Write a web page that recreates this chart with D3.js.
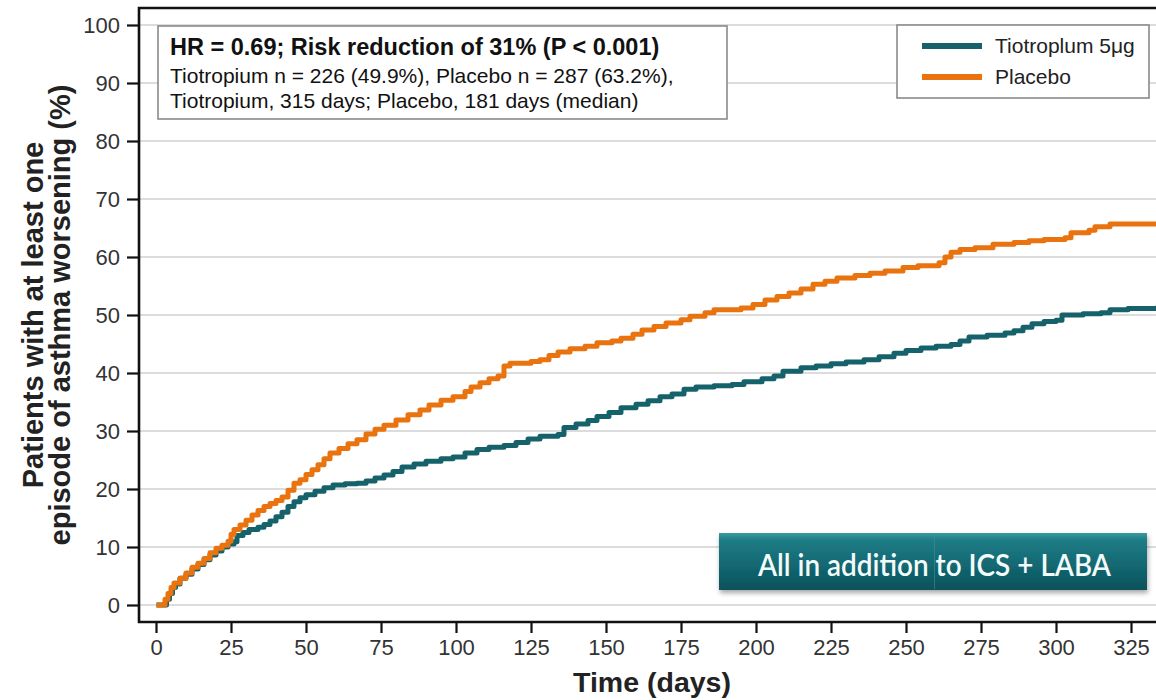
<!DOCTYPE html>
<html><head><meta charset="utf-8">
<script src="https://cdn.jsdelivr.net/npm/d3@7"></script>
<style>
html,body{margin:0;padding:0;background:#fff;}
svg{display:block;font-family:"Liberation Sans",Arial,sans-serif;}
</style></head>
<body><svg id="c" width="1156" height="700"></svg>
<script>
// ---- data ----
const xTicks = [0,25,50,75,100,125,150,175,200,225,250,275,300,325];
const yTicks = [0,10,20,30,40,50,60,70,80,90,100];
const seriesNames = ["Tiotroplum 5μg","Placebo"];
const seriesColors = ["#16626a","#e8730f"];
// Tiotropium: [day, % with ≥1 episode]
const tiotropium = [[1,0],[3.5,1],[4.5,2],[5.5,3],[6.5,3.6],[8,4.6],[10,5.3],[12,6.2],[14,7],[16,7.8],[18,8.6],[20,9.3],[22,10],[24,10.5],[26,10.9],[27,12],[29,12.5],[31,13],[34,13.4],[36,13.9],[38,14.5],[40,15.2],[42,16],[44,17],[46,17.8],[48,18.5],[50,19],[53,19.6],[56,20.2],[59,20.7],[63,20.9],[67,21],[70,21.4],[73,21.9],[76,22.4],[79,23],[82,23.8],[86,24.3],[90,24.8],[95,25.2],[99,25.5],[103,26.2],[107,26.8],[111,27.2],[116,27.5],[120,28],[124,28.6],[128,29.1],[134,29.4],[136,30.6],[140,31.2],[144,31.8],[147,32.5],[151,33.2],[155,34],[160,34.6],[164,35.2],[168,35.9],[172,36.4],[176,37.2],[180,37.6],[186,37.8],[192,38],[196,38.5],[202,39],[206,39.5],[209,40.3],[215,40.9],[220,41.2],[225,41.6],[230,41.9],[236,42.3],[241,42.8],[246,43.4],[250,43.9],[255,44.3],[260,44.6],[265,44.9],[268,45.5],[271,46.2],[277,46.5],[283,46.9],[286,47.3],[289,47.9],[292,48.5],[296,48.9],[300,49.1],[302,50],[309,50.2],[315,50.4],[318,50.9],[324,51.1],[334,51.2]];
// Placebo: [day, % with ≥1 episode]
const placebo = [[1,0],[3,1],[4,2],[5,3],[6,3.8],[8,4.6],[10,5.5],[12,6.5],[14,7.2],[16,8],[18,9],[20,9.8],[22,10.3],[24,11],[25,12.2],[26,13],[28,13.8],[30,14.6],[32,15.5],[34,16.3],[36,17],[38,17.5],[40,18],[42,18.6],[44,19.8],[46,21],[48,21.6],[50,22.5],[52,23.3],[54,24.2],[56,25.2],[58,26.2],[61,27],[64,27.8],[67,28.5],[70,29.5],[73,30.3],[76,31],[80,31.9],[84,32.8],[88,33.6],[91,34.5],[95,35.3],[99,35.9],[103,36.8],[105,37.6],[108,38.3],[111,39],[114,39.5],[116,41.2],[118,41.7],[125,42],[128,42.3],[131,43],[134,43.6],[138,44.2],[143,44.6],[147,45.2],[152,45.5],[155,46],[159,46.7],[162,47.4],[166,48],[170,48.6],[175,49.2],[178,49.8],[183,50.4],[186,50.9],[195,51.2],[199,51.8],[203,52.6],[207,53.2],[211,53.8],[215,54.5],[219,55.3],[223,55.8],[227,56.4],[233,56.8],[238,57.2],[243,57.6],[249,58.2],[254,58.5],[261,59],[263,60],[265,60.8],[268,61.3],[273,61.6],[279,62.2],[286,62.5],[291,62.8],[296,63],[303,63.3],[305,64.2],[311,64.6],[313,65.2],[318,65.7],[334,65.7]];
const annotLines = ["HR = 0.69; Risk reduction of 31% (P < 0.001)","Tiotropium n = 226 (49.9%), Placebo n = 287 (63.2%),","Tiotropium, 315 days; Placebo, 181 days (median)"];
const bannerText = "All in addition to ICS + LABA";
const xTitle = "Time (days)";
const yTitleLines = ["Patients with at least one","episode of asthma worsening (%)"];

// ---- layout ----
const svg = d3.select("#c");
const plotL = 139, plotT = 8, plotB = 622, plotR = 1160;
const x = d3.scaleLinear().domain([0,325]).range([156,1131]);
const y = d3.scaleLinear().domain([0,100]).range([605,25]);

const defs = svg.append("defs");
defs.append("clipPath").attr("id","clip").append("rect")
  .attr("x",plotL).attr("y",plotT).attr("width",plotR-plotL).attr("height",plotB-plotT);
const g1 = defs.append("linearGradient").attr("id","bannerGrad").attr("x1",0).attr("y1",0).attr("x2",0).attr("y2",1);
g1.append("stop").attr("offset","0%").attr("stop-color","#3a9aa1");
g1.append("stop").attr("offset","12%").attr("stop-color","#1f7d86");
g1.append("stop").attr("offset","60%").attr("stop-color","#126670");
g1.append("stop").attr("offset","100%").attr("stop-color","#0b525a");
const f = defs.append("filter").attr("id","shadow").attr("x","-10%").attr("y","-20%").attr("width","120%").attr("height","150%");
f.append("feDropShadow").attr("dx",1).attr("dy",3).attr("stdDeviation",2.5).attr("flood-color","#000").attr("flood-opacity",0.35);

// gridlines
svg.append("g").selectAll("line").data(yTicks).join("line")
  .attr("x1",plotL).attr("x2",plotR).attr("y1",d=>y(d)).attr("y2",d=>y(d))
  .attr("stroke","#dcdcdc").attr("stroke-width",2);

// axes
const yAxis = svg.append("g").attr("transform",`translate(${plotL},0)`)
  .call(d3.axisLeft(y).tickValues(yTicks).tickSize(12).tickPadding(7));
const xAxis = svg.append("g").attr("transform",`translate(0,${plotB})`)
  .call(d3.axisBottom(x).tickValues(xTicks).tickSize(11).tickPadding(6));
[yAxis,xAxis].forEach(a=>{
  a.select(".domain").remove();
  a.selectAll(".tick line").attr("stroke","#111").attr("stroke-width",2.2);
  a.selectAll(".tick text").attr("fill","#333").style("font-size","22px").style("font-family","Liberation Sans, Arial, sans-serif");
});
// spines
svg.append("path").attr("d",`M${plotR},${plotT}H${plotL}V${plotB}H${plotR}`)
  .attr("fill","none").attr("stroke","#111").attr("stroke-width",2.6);

// curves
const line = d3.line().x(d=>x(d[0])).y(d=>y(d[1])).curve(d3.curveStepAfter);
const cg = svg.append("g").attr("clip-path","url(#clip)");
[tiotropium,placebo].forEach((s,i)=>{
  cg.append("path").datum(s).attr("d",line).attr("fill","none")
    .attr("stroke",seriesColors[i]).attr("stroke-width",5).attr("stroke-linejoin","round").attr("stroke-linecap","square");
});

// annotation box
svg.append("rect").attr("x",158).attr("y",26).attr("width",569).attr("height",93)
  .attr("fill","#fff").attr("stroke","#8a8a8a").attr("stroke-width",1.6);
const at = svg.append("g");
at.append("text").attr("x",170).attr("y",55).text(annotLines[0])
  .style("font-size","23.5px").style("font-weight","bold").attr("fill","#111");
at.append("text").attr("x",170).attr("y",83).text(annotLines[1]).style("font-size","21px").attr("fill","#111");
at.append("text").attr("x",170).attr("y",108).text(annotLines[2]).style("font-size","21px").attr("fill","#111");

// legend
svg.append("rect").attr("x",897).attr("y",25).attr("width",252).attr("height",73)
  .attr("fill","#fff").attr("stroke","#8a8a8a").attr("stroke-width",1.6);
const lg = svg.append("g").selectAll("g").data(seriesNames).join("g")
  .attr("transform",(d,i)=>`translate(0,${46+i*31})`);
lg.append("line").attr("x1",922).attr("x2",982).attr("y1",0).attr("y2",0)
  .attr("stroke",(d,i)=>seriesColors[i]).attr("stroke-width",6);
lg.append("text").attr("x",995).attr("y",7).text(d=>d).style("font-size","21px").attr("fill","#222");

// banner
svg.append("rect").attr("x",719).attr("y",533).attr("width",428).attr("height",57)
  .attr("fill","url(#bannerGrad)").attr("filter","url(#shadow)");
svg.append("line").attr("x1",934.5).attr("x2",934.5).attr("y1",534).attr("y2",589)
  .attr("stroke","#3d8f96").attr("stroke-width",1).attr("opacity",0.6);
svg.append("text").attr("x",934.5).attr("y",576).attr("text-anchor","middle")
  .attr("textLength",353).attr("lengthAdjust","spacingAndGlyphs")
  .style("font-family","Lato, 'Open Sans', sans-serif").style("font-size","31px").style("font-weight","600")
  .attr("fill","#f4fbfb").text(bannerText);

// axis titles
svg.append("text").attr("x",652).attr("y",692).attr("text-anchor","middle")
  .style("font-size","28.5px").style("font-weight","bold").attr("fill","#222").text(xTitle);
const yt = svg.append("text").attr("transform","translate(0,315) rotate(-90)")
  .attr("text-anchor","middle").style("font-size","29px").style("font-weight","bold").attr("fill","#222");
yt.append("tspan").attr("x",0).attr("y",43).text(yTitleLines[0]);
yt.append("tspan").attr("x",0).attr("y",70).text(yTitleLines[1]);
</script></body></html>
